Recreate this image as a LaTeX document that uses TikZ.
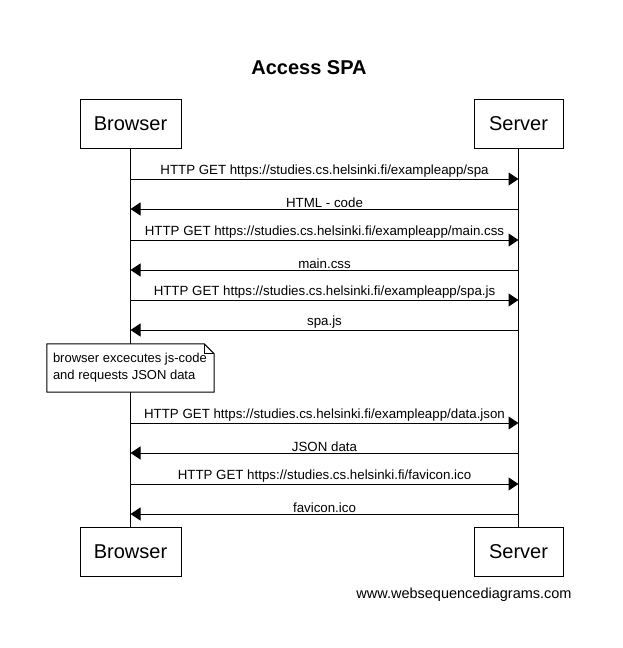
\documentclass[tikz,border=0pt]{standalone}
\usepackage{fontspec}
\setmainfont{Liberation Sans}
\usetikzlibrary{arrows.meta,positioning,calc}

\begin{document}
\begin{tikzpicture}[
    x=1pt, y=-1pt,
    font=\fontsize{13.3}{15}\selectfont,
    actor/.style={rectangle, draw, fill=white, line width=1pt,
        minimum width=101pt, minimum height=49pt, inner sep=0pt,
        font=\fontsize{20}{24}\selectfont},
    life/.style={line width=1pt},
    msg/.style={-{Triangle[length=10pt, width=13pt]}, line width=1pt},
    lbl/.style={above=1pt, midway, inner sep=0pt},
]
\useasboundingbox (0,0) rectangle (622,648);

% ---------- title ----------
\node[font=\fontsize{20}{24}\selectfont\bfseries] (title) at (309,68) {Access SPA};

% ---------- participants ----------
\node[actor] (bt) at (130.5,123.5) {Browser};
\node[actor, minimum width=89pt] (st) at (518.5,123.5) {Server};
\node[actor] (bb) at (130.5,551.5) {Browser};
\node[actor, minimum width=89pt] (sb) at (518.5,551.5) {Server};

\draw[life] (bt.south) -- (bb.north);
\draw[life] (st.south) -- (sb.north);

% ---------- lifeline points ----------
\foreach \i/\y in {1/179,2/209,3/240,4/270,5/300,6/330,7/423,8/453,9/484,10/514} {
  \coordinate (b\i) at (130.5,\y);
  \coordinate (s\i) at (518.5,\y);
}

% ---------- messages ----------
\draw[msg] (b1) -- node[lbl] {HTTP GET https://studies.cs.helsinki.fi/exampleapp/spa} (s1);
\draw[msg] (s2) -- node[lbl] {HTML - code} (b2);
\draw[msg] (b3) -- node[lbl] {HTTP GET https://studies.cs.helsinki.fi/exampleapp/main.css} (s3);
\draw[msg] (s4) -- node[lbl] {main.css} (b4);
\draw[msg] (b5) -- node[lbl] {HTTP GET https://studies.cs.helsinki.fi/exampleapp/spa.js} (s5);
\draw[msg] (s6) -- node[lbl] {spa.js} (b6);

% ---------- note ----------
\node[minimum width=167pt, minimum height=48pt, inner sep=0pt] (note) at (130.5,368) {};
\draw[line width=1pt, fill=white]
  (note.north west) -- ($(note.north east)+(-10,0)$) -- ($(note.north east)+(0,10)$)
  -- (note.south east) -- (note.south west) -- cycle;
\draw[line width=1pt] ($(note.north east)+(-10,0)$) |- ($(note.north east)+(0,10)$);
\node[anchor=west, align=left, inner sep=0pt, font=\fontsize{13}{17}\selectfont]
  (notetxt) at ($(note.west)+(6,0)$) {browser excecutes js-code\\and requests JSON data};

\draw[msg] (b7) -- node[lbl] {HTTP GET https://studies.cs.helsinki.fi/exampleapp/data.json} (s7);
\draw[msg] (s8) -- node[lbl] {JSON data} (b8);
\draw[msg] (b9) -- node[lbl] {HTTP GET https://studies.cs.helsinki.fi/favicon.ico} (s9);
\draw[msg] (s10) -- node[lbl] {favicon.ico} (b10);

% ---------- footer ----------
\node[font=\fontsize{14.5}{17}\selectfont] (credit) at (464,595) {www.websequencediagrams.com};

\end{tikzpicture}
\end{document}
